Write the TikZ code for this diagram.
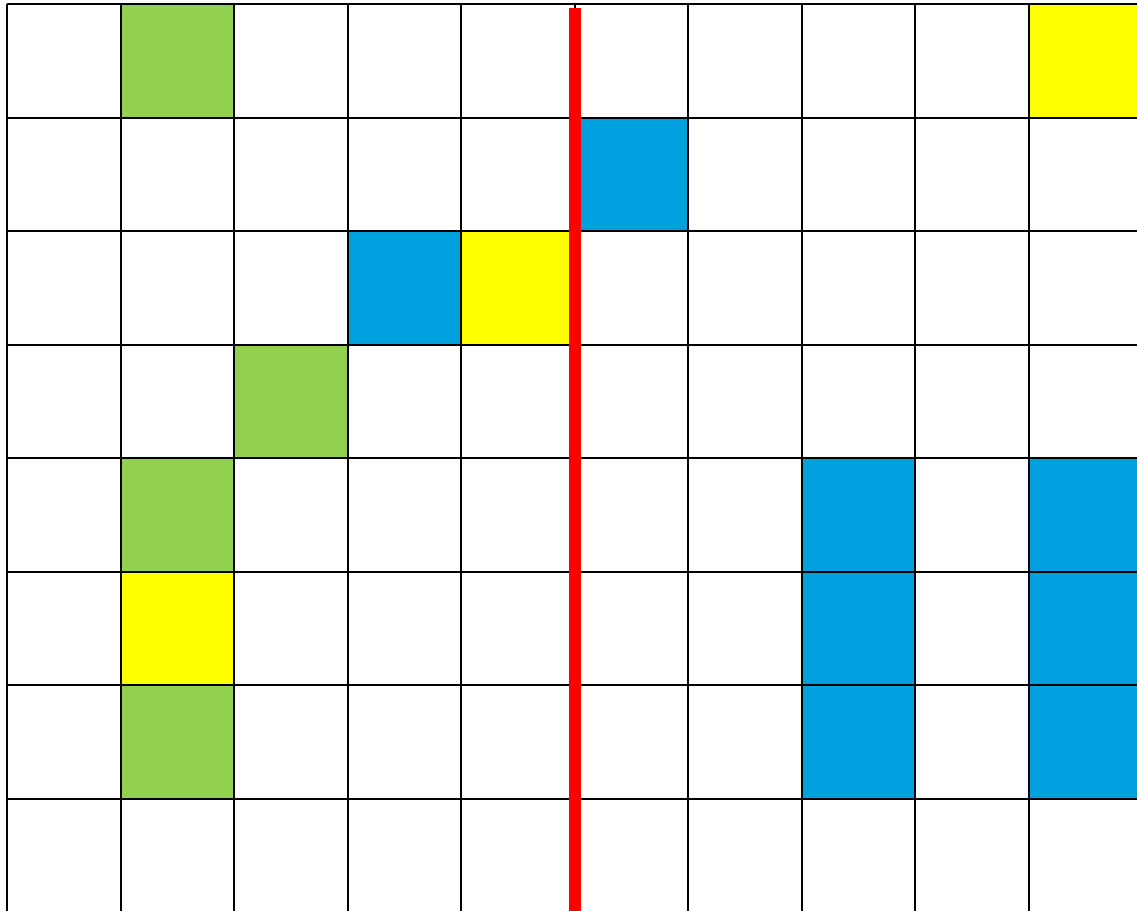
\documentclass[tikz,border=0pt]{standalone}
\definecolor{cgreen}{RGB}{146,208,80}
\definecolor{cyellow}{RGB}{255,255,0}
\definecolor{cblue}{RGB}{0,160,223}
\definecolor{cred}{RGB}{255,0,0}
\tikzset{
  gridline/.style={black, line width=2pt},
  redline/.style={cred, line width=11.7pt},
}
\newcommand{\cellfill}[3]{% col,row,color
  \fill[#3] ({7+113.56*#1},{4+113.57*#2}) rectangle ({7+113.56*(#1+1)},{4+113.57*(#2+1)});
}
\begin{document}
\begin{tikzpicture}[x=1pt,y=-1pt]
\useasboundingbox (0,0) rectangle (1137,910);
\clip (0,0) rectangle (1137,910);
\fill[white] (0,0) rectangle (1137,910);
% coloured cells
\cellfill{1}{0}{cgreen}
\cellfill{9}{0}{cyellow}
\cellfill{5}{1}{cblue}
\cellfill{3}{2}{cblue}
\cellfill{4}{2}{cyellow}
\cellfill{2}{3}{cgreen}
\cellfill{1}{4}{cgreen}
\cellfill{7}{4}{cblue}
\cellfill{9}{4}{cblue}
\cellfill{1}{5}{cyellow}
\cellfill{7}{5}{cblue}
\cellfill{9}{5}{cblue}
\cellfill{1}{6}{cgreen}
\cellfill{7}{6}{cblue}
\cellfill{9}{6}{cblue}
% grid
\foreach \i in {0,...,10} {
  \draw[gridline] ({7+113.56*\i},4) -- ({7+113.56*\i},920);
}
\foreach \j in {0,...,8} {
  \draw[gridline] (7,{4+113.57*\j}) -- (1150,{4+113.57*\j});
}
% red line
\draw[redline] (575,8) -- (575,920);
\end{tikzpicture}
\end{document}
